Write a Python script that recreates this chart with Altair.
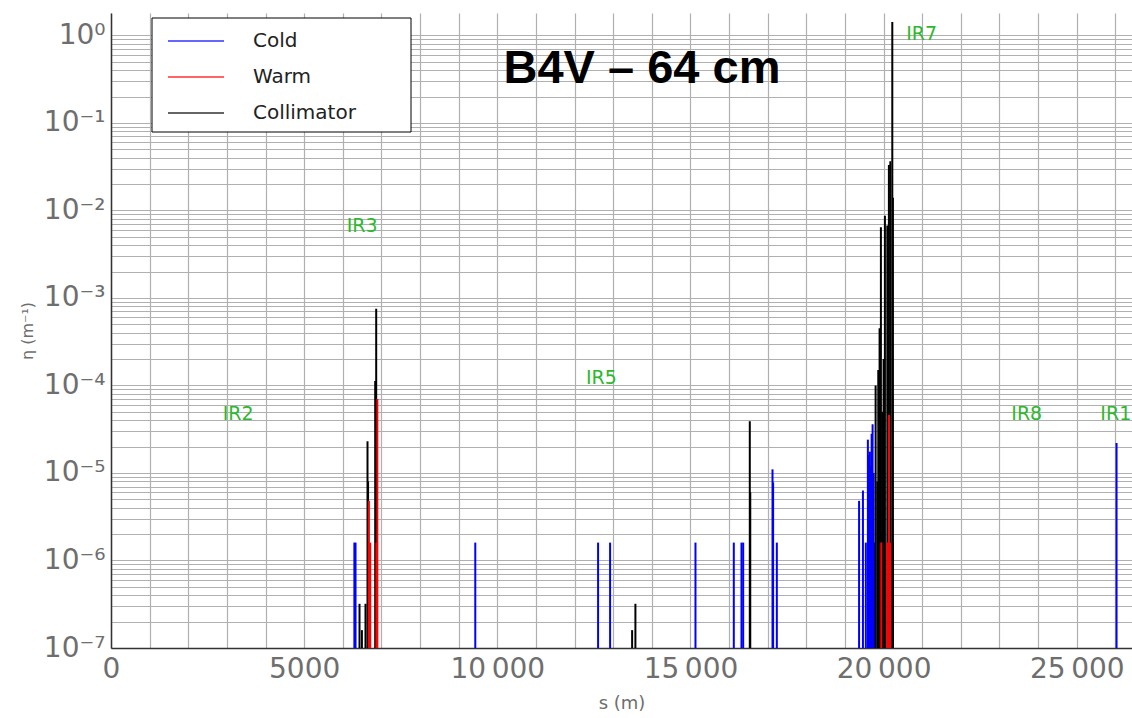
import altair as alt
import pandas as pd

# ---- data ----
cold_s = [6300, 6330, 9430, 12609, 12920, 15130, 16122, 16321, 16365, 17124, 17140, 17236,
          19365, 19465, 19540, 19593, 19615, 19645, 19665, 19690, 19715, 19740, 19760, 20241, 26030]
cold_eta = [1.6e-6, 1.6e-6, 1.6e-6, 1.6e-6, 1.6e-6, 1.6e-6, 1.6e-6, 1.6e-6, 1.6e-6, 1.1e-5, 7.8e-6, 1.6e-6,
            4.8e-6, 6.3e-6, 1.6e-6, 2.4e-5, 1.6e-5, 1.75e-5, 1.2e-5, 2.8e-5, 3.6e-5, 1.0e-5, 1.6e-6, 1.6e-6, 2.2e-5]

warm_s = [6676, 6710, 6870, 6895, 19940, 20096, 20115, 20140, 20165]
warm_eta = [4.8e-6, 1.6e-6, 1.6e-6, 7.0e-5, 1.6e-6, 1.6e-6, 1.6e-6, 4.6e-5, 1.6e-6]

coll_s = [6433, 6495, 6588, 6640, 6655, 6839, 6865, 13490, 13575, 16536, 16548,
          19793, 19837, 19862, 19896, 19930, 19965, 20000, 20034, 20096, 20137, 20174, 20225, 20241]
coll_eta = [3.2e-7, 1.6e-7, 3.2e-7, 2.3e-5, 8e-6, 1.12e-4, 7.5e-4, 1.6e-7, 3.2e-7, 3.9e-5, 6e-6,
            1.0e-4, 8e-6, 1.5e-4, 4.5e-4, 6.4e-3, 5e-5, 2e-4, 8.7e-3, 6.7e-3, 3.3e-2, 3.65e-2, 1.42, 1.39e-2]

ir_names = ["IR2", "IR3", "IR5", "IR7", "IR8", "IR1"]
ir_s = [3290, 6503, 12694, 20984, 23705, 26010]
ir_eta = [4.67e-5, 6.56e-3, 1.23e-4, 1.03, 4.67e-5, 4.67e-5]

types = ["Cold", "Warm", "Collimator"]
colors = ["#0000ff", "#ff0000", "#000000"]
title_text = "B4V – 64 cm"
x_ticks = list(range(0, 27000, 1000))
y_ticks = [float(f"{m}e{k}") for k in range(-7, 1) for m in range(1, 10) if float(f"{m}e{k}") <= 1.8]

base_val = 1e-7

rows = []
for t, ss, vv in [("Cold", cold_s, cold_eta), ("Collimator", coll_s, coll_eta), ("Warm", warm_s, warm_eta)]:
    for s, v in zip(ss, vv):
        rows.append({"type": t, "s": s, "eta": v, "base": base_val})
df = pd.DataFrame(rows)
df["order"] = range(len(df))

ir_df = pd.DataFrame({"name": ir_names, "s": ir_s, "eta": ir_eta})
title_df = pd.DataFrame({"t": [title_text]})
box_df = pd.DataFrame({"k": [0]})

W, H = 1021, 635
grey = "#6e6e6e"

xscale = alt.Scale(domain=[0, 26430], nice=False, zero=False)
yscale = alt.Scale(type="log", domain=[1e-7, 1.8], nice=False)

x_label_expr = ("datum.value % 5000 == 0 ? (datum.value >= 10000 ? "
                "replace(format(datum.value, ','), ',', '\u2009') : format(datum.value, 'd')) : ''")
y_label_expr = ("abs(log(datum.value)/LN10 - round(log(datum.value)/LN10)) < 0.01 ? "
                "'10' + ['⁰','⁻¹','⁻²','⁻³','⁻⁴','⁻⁵','⁻⁶','⁻⁷'][-round(log(datum.value)/LN10)] : ''")

# legend frame (drawn behind the legend entries)
legend_box = alt.Chart(box_df).mark_rect(fill="white", stroke="black", strokeWidth=1).encode(
    x=alt.value(41), x2=alt.value(300), y=alt.value(5), y2=alt.value(119))

rules = alt.Chart(df).mark_rule(strokeWidth=2).encode(
    x=alt.X("s:Q", scale=xscale,
            axis=alt.Axis(values=x_ticks, tickCount=200, labelExpr=x_label_expr, title="s (m)",
                          labelFontSize=28, labelColor=grey, labelPadding=7, labelFlush=False,
                          labelOverlap=False, ticks=False, grid=True,
                          titleFontSize=18, titleColor=grey, titleFontWeight="normal",
                          titleY=55, titleBaseline="middle")),
    y=alt.Y("eta:Q", scale=yscale,
            axis=alt.Axis(values=y_ticks, tickCount=200, labelExpr=y_label_expr, title="η (m⁻¹)",
                          labelFontSize=28, labelColor=grey, labelPadding=6,
                          labelOverlap=False, ticks=False, grid=True,
                          titleFontSize=16, titleColor=grey, titleFontWeight="normal",
                          titleX=-84, titleY=H / 2, titleAngle=270,
                          titleAlign="center", titleBaseline="middle")),
    y2="base:Q",
    color=alt.Color("type:N", scale=alt.Scale(domain=types, range=colors),
                    legend=alt.Legend(title=None, orient="none", legendX=41, legendY=5,
                                      symbolType="M-1,0H7", symbolSize=196, symbolStrokeWidth=2,
                                      symbolOpacity=0.6, labelFontSize=20, labelColor="#222222",
                                      labelOffset=68, rowPadding=16, padding=13)),
    order="order:Q",
)

ir_text = alt.Chart(ir_df).mark_text(fontSize=19, color="#2db82d", align="center",
                                     baseline="middle", font="DejaVu Sans").encode(
    x=alt.X("s:Q", scale=xscale), y=alt.Y("eta:Q", scale=yscale), text="name:N")

title_mark = alt.Chart(title_df).mark_text(fontSize=47, fontWeight="bold", font="Liberation Sans",
                                           color="black", align="center", baseline="alphabetic").encode(
    x=alt.value(531), y=alt.value(70), text="t:N")

chart = alt.layer(legend_box, rules, ir_text, title_mark).properties(
    width=W, height=H,
    autosize=alt.AutoSizeParams(type="none"),
    padding={"left": 111, "top": 13, "right": 0, "bottom": 68},
    background="white",
).configure_view(stroke=None).configure_axis(
    labelFont="DejaVu Sans", titleFont="DejaVu Sans",
    gridColor="#b0b0b0", gridWidth=1.2, gridOpacity=1,
    domainColor="#333333", domainWidth=1.5,
).configure_legend(labelFont="DejaVu Sans")

chart.save("out.html", embed_options={"renderer": "svg", "actions": False})
